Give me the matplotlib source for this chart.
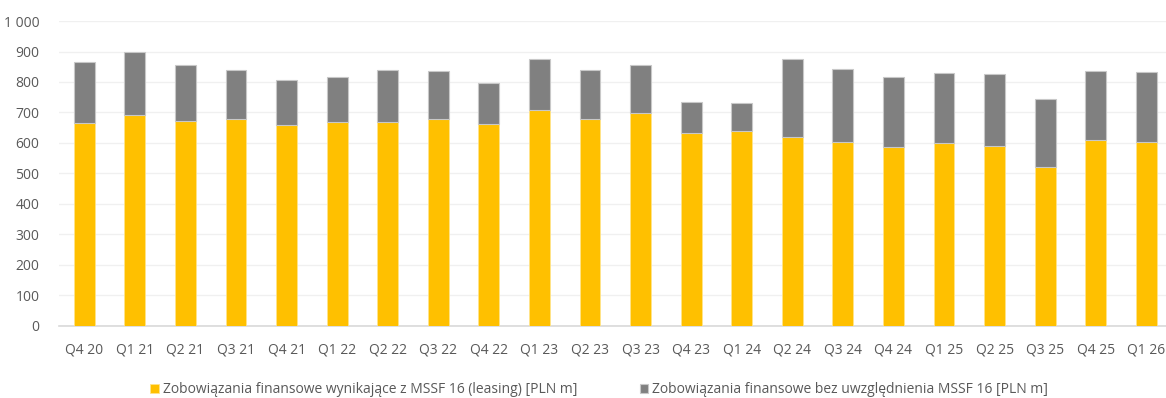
import numpy as np
import matplotlib.pyplot as plt
from matplotlib.ticker import FuncFormatter

plt.rcParams['font.family'] = ['Open Sans', 'DejaVu Sans']

quarters = ['Q4 20', 'Q1 21', 'Q2 21', 'Q3 21', 'Q4 21', 'Q1 22', 'Q2 22', 'Q3 22',
            'Q4 22', 'Q1 23', 'Q2 23', 'Q3 23', 'Q4 23', 'Q1 24', 'Q2 24', 'Q3 24',
            'Q4 24', 'Q1 25', 'Q2 25', 'Q3 25', 'Q4 25', 'Q1 26']

# leasing liabilities (IFRS 16) and total, PLN m
leasing = [666, 691, 673, 678, 659, 668, 670, 678, 662, 708, 678, 697,
           631, 638, 618, 603, 586, 599, 589, 521, 610, 604]
total = [866, 897, 856, 840, 806, 817, 838, 836, 796, 875, 838, 855,
         733, 730, 877, 842, 816, 830, 825, 745, 836, 833]
other = [t - l for t, l in zip(total, leasing)]

label_leasing = 'Zobowiązania finansowe wynikające z MSSF 16 (leasing) [PLN m]'
label_other = 'Zobowiązania finansowe bez uwzględnienia MSSF 16 [PLN m]'

fig = plt.figure(figsize=(11.66, 3.98), dpi=100)
ax = fig.add_axes([0.0506, 0.182, 0.9494, 0.765])

x = np.arange(len(quarters))
w = 0.41
ax.bar(x, leasing, w, color='#FFC000', edgecolor='#FFE48A', linewidth=0.6,
       label=label_leasing, zorder=3)
ax.bar(x, other, w, bottom=leasing, color='#808080', edgecolor='#C8C8C8',
       linewidth=0.8, label=label_other, zorder=3)

ax.set_ylim(0, 1000)
ax.set_xlim(-0.5, 21.39)
ax.set_yticks(range(0, 1001, 100))
ax.yaxis.set_major_formatter(FuncFormatter(lambda v, p: f'{int(v):,}'.replace(',', ' ')))
ax.set_xticks(x)
ax.set_xticklabels(quarters)

ax.grid(axis='y', color='#F0F0F0', linewidth=1, zorder=0)
for s in ['top', 'right', 'left']:
    ax.spines[s].set_visible(False)
ax.spines['bottom'].set_color('#D9D9D9')
ax.spines['bottom'].set_linewidth(1.2)
ax.tick_params(axis='both', length=0, colors='#595959', labelsize=10)
ax.tick_params(axis='y', pad=14)
ax.tick_params(axis='x', pad=12)

leg = fig.legend(loc='lower center', bbox_to_anchor=(0.514, -0.03), ncol=2,
                 frameon=False, fontsize=10, handlelength=0.6, handleheight=0.6,
                 handletextpad=0.3, columnspacing=4.5)
for t in leg.get_texts():
    t.set_color('#595959')

fig.savefig('out.png', dpi=100)
